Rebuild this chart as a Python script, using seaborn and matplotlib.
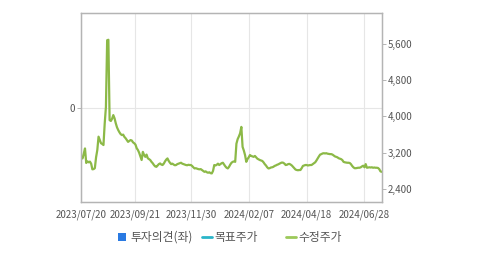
import numpy as np
import pandas as pd
import matplotlib
matplotlib.use("Agg")
import matplotlib.pyplot as plt
import seaborn as sns
from matplotlib.lines import Line2D
from matplotlib.patches import Rectangle

# ---- data ----
tick_labels = ["2023/07/20", "2023/09/21", "2023/11/30", "2024/02/07", "2024/04/18", "2024/06/28"]
tick_index = [0, 44, 89, 136, 183, 230]   # trading-day index of each label
price = [
    3110, 3075, 3180, 3295, 2975, 3010, 2990, 3005, 2960, 2835,
    2840, 2860, 3100, 3260, 3555, 3480, 3410, 3395, 3370, 3840,
    4210, 5680, 5690, 3920, 3900, 3950, 4030, 3960, 3850, 3760,
    3700, 3650, 3610, 3590, 3600, 3550, 3520, 3480, 3440, 3460,
    3480, 3470, 3430, 3410, 3380, 3300, 3260, 3200, 3120, 3040,
    3220, 3150, 3110, 3160, 3080, 3060, 3040, 3000, 2970, 2930,
    2900, 2890, 2920, 2950, 2965, 2940, 2930, 2960, 3010, 3050,
    3075, 3020, 2980, 2950, 2960, 2940, 2925, 2930, 2950, 2960,
    2970, 2980, 2960, 2950, 2940, 2930, 2925, 2935, 2930, 2930,
    2910, 2880, 2855, 2860, 2850, 2840, 2835, 2840, 2820, 2800,
    2780, 2790, 2770, 2760, 2770, 2750, 2745, 2800, 2930, 2920,
    2935, 2960, 2930, 2950, 2970, 2980, 2940, 2900, 2870, 2855,
    2890, 2940, 2980, 3000, 3010, 3000, 3400, 3500, 3560, 3630,
    3770, 3330, 3250, 3150, 3000, 3060, 3100, 3150, 3130, 3120,
    3110, 3130, 3100, 3070, 3055, 3040, 3030, 3020, 2990, 2950,
    2920, 2880, 2855, 2860, 2875, 2880, 2890, 2910, 2920, 2935,
    2945, 2960, 2975, 2985, 2980, 2960, 2930, 2935, 2950, 2955,
    2940, 2920, 2890, 2860, 2830, 2820, 2815, 2820, 2820, 2860,
    2910, 2920, 2930, 2930, 2920, 2925, 2930, 2930, 2950, 2970,
    2990, 3030, 3075, 3120, 3160, 3170, 3185, 3190, 3185, 3190,
    3180, 3175, 3170, 3170, 3160, 3140, 3120, 3110, 3100, 3080,
    3070, 3060, 3040, 3000, 2990, 2985, 2980, 2980, 2975, 2950,
    2910, 2880, 2860, 2860, 2865, 2870, 2870, 2880, 2900, 2915,
    2880, 2950, 2870, 2875, 2880, 2875, 2880, 2870, 2875, 2870,
    2870, 2865, 2840, 2790, 2780,
]
right_ticks = [2400, 3200, 4000, 4800, 5600]
left_ticks = [0]
legend_labels = ["투자의견(좌)", "목표주가", "수정주가"]

df = pd.DataFrame({"idx": np.arange(len(price)), "price": price})

sns.set_theme(style="white")
plt.rcParams["font.family"] = ["Noto Sans CJK KR", "DejaVu Sans"]

W, H = 479, 254
fig = plt.figure(figsize=(W / 100, H / 100), dpi=100)
axL = fig.add_axes([81.3 / W, (H - 202) / H, (381.7 - 81.3) / W, (202 - 13) / H])
axR = axL.twinx()

GREEN = "#8cb947"
GRAY = "#b4b4b4"
TXT = "#555555"

sns.lineplot(data=df, x="idx", y="price", ax=axR, color=GREEN, linewidth=1.6)

axR.set_xlim(0, len(price) - 1)
axR.set_ylim(2115, 6280)
axR.set_yticks(right_ticks)
axR.set_yticklabels([f"{v:,}" for v in right_ticks])
axR.set_xlabel("")
axR.set_ylabel("")

axL.set_ylim(-1, 1)
axL.set_yticks(left_ticks)
axL.set_yticklabels([str(v) for v in left_ticks])
axL.set_xticks(tick_index)
axL.set_xticklabels(tick_labels)
axL.set_xlim(0, len(price) - 1)

axL.grid(True, color="#e6e6e6", linewidth=0.8)
axR.grid(False)
axL.set_axisbelow(True)

for ax in (axL, axR):
    for s in ax.spines.values():
        s.set_color(GRAY)
        s.set_linewidth(0.9)
    ax.tick_params(colors=TXT, labelsize=7, length=3, width=0.7, color=GRAY, pad=1.5)

axL.tick_params(axis="x", pad=2.5)
axR.tick_params(axis="y", pad=1)

# legend drawn manually in figure pixel coordinates
ly = (H - 237) / H
fig.patches.append(Rectangle((117.5 / W, (H - 241) / H), 8 / W, 8 / H,
                             transform=fig.transFigure, facecolor="#2a7ae2",
                             edgecolor="none"))
fig.text(130 / W, ly, legend_labels[0], fontsize=8.5, color=TXT, va="center", ha="left")
fig.lines.append(Line2D([201.5 / W, 211.5 / W], [ly, ly], transform=fig.transFigure,
                        color="#2ab5c9", linewidth=2))
fig.text(214 / W, ly, legend_labels[1], fontsize=8.5, color=TXT, va="center", ha="left")
fig.lines.append(Line2D([285.5 / W, 296 / W], [ly, ly], transform=fig.transFigure,
                        color="#9cc95a", linewidth=2))
fig.text(298 / W, ly, legend_labels[2], fontsize=8.5, color=TXT, va="center", ha="left")

fig.savefig("out.png", dpi=100)
